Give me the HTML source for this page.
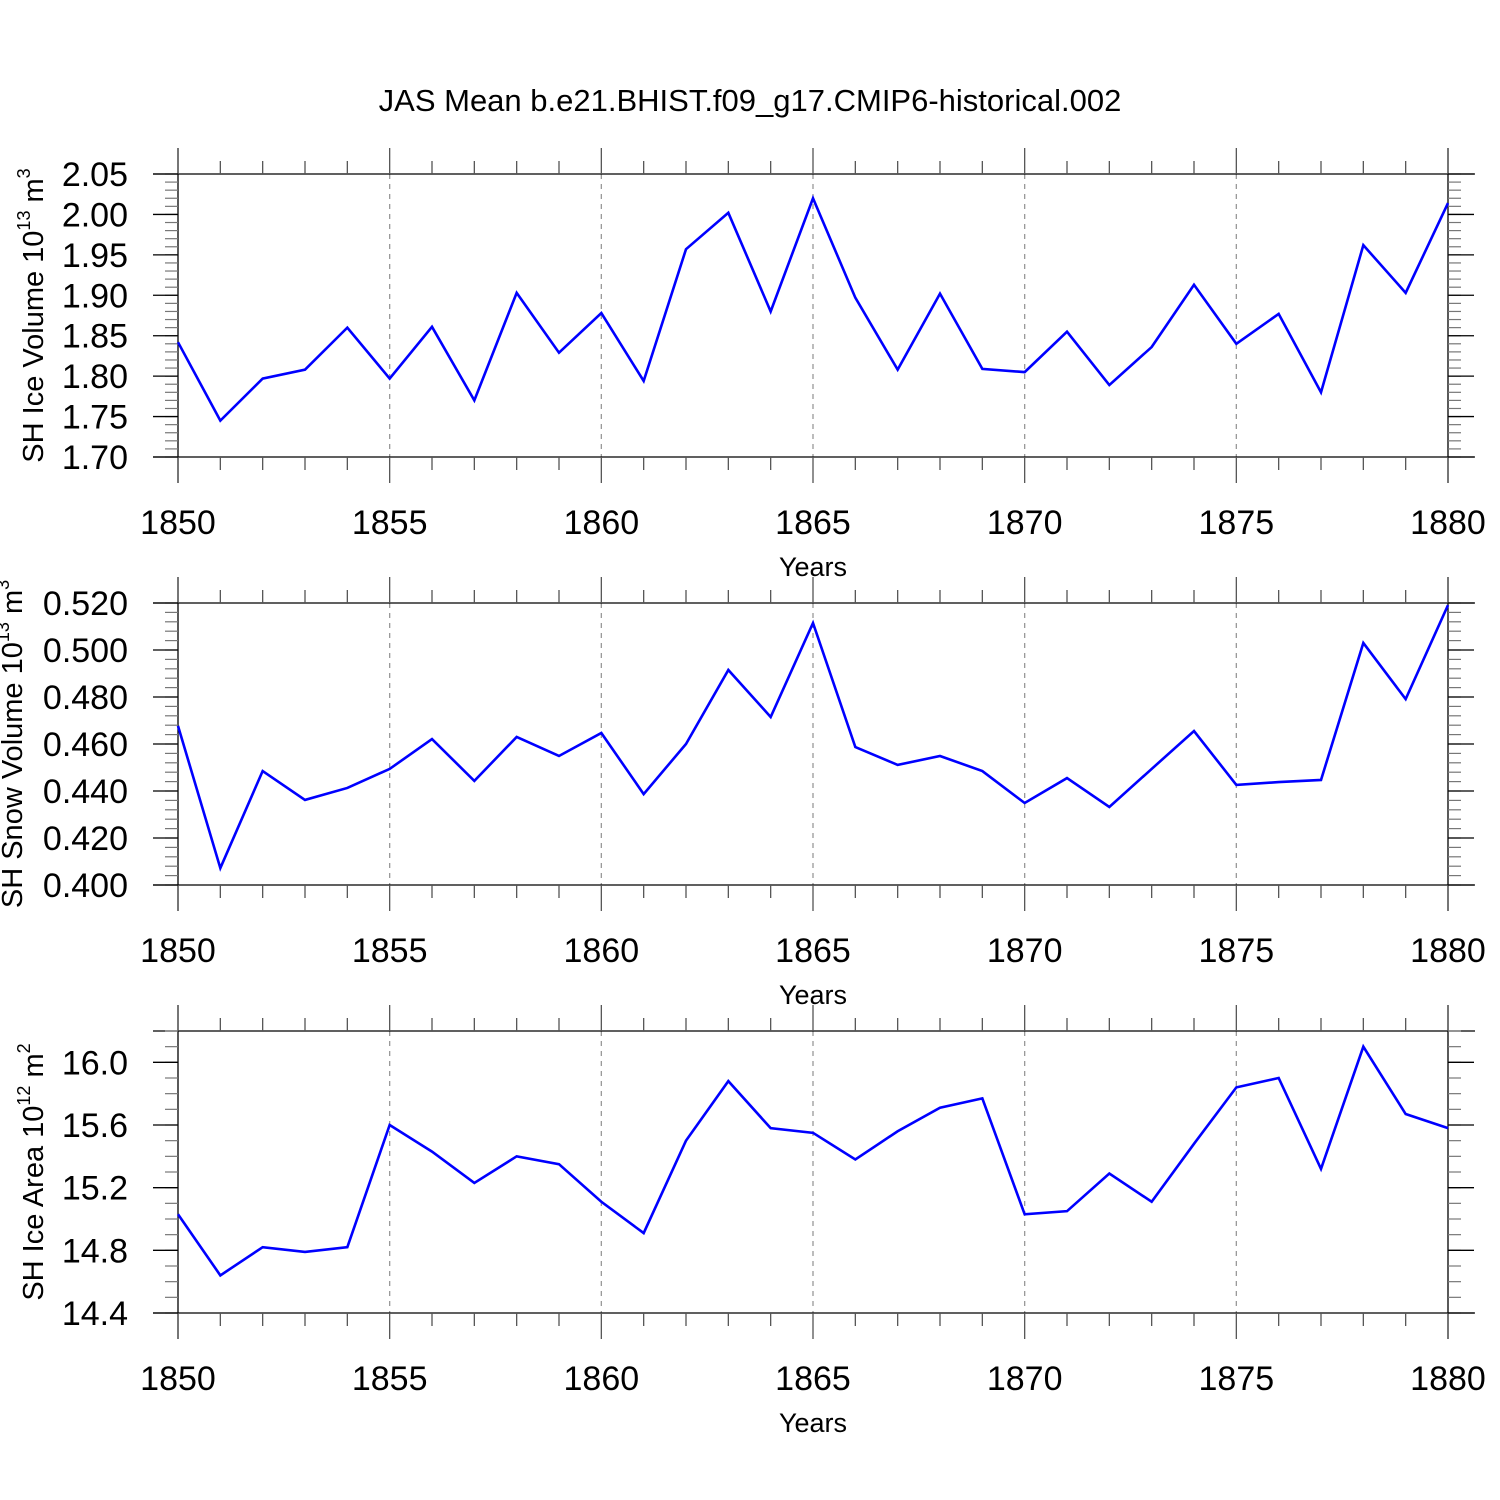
<!DOCTYPE html>
<html><head><meta charset="utf-8"><style>
html,body{margin:0;padding:0;background:#fff}
svg{display:block;font-family:"Liberation Sans",sans-serif}
</style></head><body>
<svg id="chart" width="1500" height="1500" viewBox="0 0 1500 1500">
<text x="750" y="111" text-anchor="middle" font-size="31">JAS Mean b.e21.BHIST.f09_g17.CMIP6-historical.002</text>
</svg>
<script>
const years = [1850,1851,1852,1853,1854,1855,1856,1857,1858,1859,1860,1861,1862,1863,1864,1865,1866,1867,1868,1869,1870,1871,1872,1873,1874,1875,1876,1877,1878,1879,1880];
const iceVolume = [1.842,1.745,1.797,1.808,1.860,1.797,1.861,1.770,1.903,1.829,1.878,1.794,1.957,2.002,1.880,2.020,1.897,1.808,1.902,1.809,1.805,1.855,1.789,1.836,1.913,1.840,1.877,1.780,1.962,1.903,2.014];
const snowVolume = [0.4677,0.4072,0.4485,0.4362,0.4413,0.4494,0.4621,0.4443,0.4630,0.4549,0.4647,0.4387,0.4600,0.4915,0.4715,0.5115,0.4587,0.4511,0.4549,0.4485,0.4349,0.4455,0.4332,0.4494,0.4655,0.4426,0.4438,0.4447,0.5030,0.4791,0.5191];
const iceArea = [15.03,14.64,14.82,14.79,14.82,15.60,15.43,15.23,15.40,15.35,15.11,14.91,15.50,15.88,15.58,15.55,15.38,15.56,15.71,15.77,15.03,15.05,15.29,15.11,15.48,15.84,15.90,15.32,16.10,15.67,15.58];
const xTicks = [1850,1855,1860,1865,1870,1875,1880];
const iceVolTicks = ["1.70","1.75","1.80","1.85","1.90","1.95","2.00","2.05"];
const snowTicks = ["0.400","0.420","0.440","0.460","0.480","0.500","0.520"];
const areaTicks = ["14.4","14.8","15.2","15.6","16.0"];

const svg = document.getElementById('chart');
const NS = 'http://www.w3.org/2000/svg';
function mk(tag, attrs, parent){const e=document.createElementNS(NS,tag);for(const k in attrs)e.setAttribute(k,attrs[k]);(parent||svg).appendChild(e);return e;}
const X0=178,X1=1448;
const xs = y => X0 + (y-1850)/(1880-1850)*(X1-X0);

function panel(name, vals, ticks, ymin, ymax, minorStep, top, bottom, titleParts, titleX){
  const g = mk('g',{});
  
  
  const ys = v => bottom - (v-ymin)/(ymax-ymin)*(bottom-top);
  for(const t of xTicks){ if(t===1850||t===1880) continue;
    const l=mk('line',{x1:xs(t),x2:xs(t),y1:top,y2:bottom,stroke:'#999','stroke-width':1.3,'stroke-dasharray':'5,5'},g);
    
    
  }
  mk('line',{x1:153,x2:1475,y1:top,y2:top,stroke:'#000','stroke-width':1.3},g);
  mk('line',{x1:153,x2:1475,y1:bottom,y2:bottom,stroke:'#000','stroke-width':1.3},g);
  mk('line',{x1:X0,x2:X0,y1:top-26,y2:bottom+26,stroke:'#000','stroke-width':1.3},g);
  mk('line',{x1:X1,x2:X1,y1:top-26,y2:bottom+26,stroke:'#000','stroke-width':1.3},g);
  for(let yr=1850; yr<=1880; yr++){
    const major = yr%5===0, len = major?26:13;
    mk('line',{x1:xs(yr),x2:xs(yr),y1:top-len,y2:top,stroke:'#555','stroke-width':1.3},g);
    mk('line',{x1:xs(yr),x2:xs(yr),y1:bottom,y2:bottom+len,stroke:'#555','stroke-width':1.3},g);
  }
  for(const t of xTicks){
    const tx=mk('text',{x:xs(t),y:bottom+77,'text-anchor':'middle','font-size':34},g);
    tx.textContent=t;
    
    
  }
  const xt=mk('text',{x:813,y:bottom+119,'text-anchor':'middle','font-size':27},g);
  xt.textContent='Years';
  
  
  const n = Math.round((ymax-ymin)/minorStep);
  for(let i=0;i<=n;i++){
    const v=ymin+i*minorStep, y=ys(v);
    mk('line',{x1:X0-13,x2:X0,y1:y,y2:y,stroke:'#777','stroke-width':1.2},g);
    mk('line',{x1:X1,x2:X1+13,y1:y,y2:y,stroke:'#777','stroke-width':1.2},g);
  }
  for(const t of ticks){
    const y=ys(parseFloat(t));
    mk('line',{x1:X0-25,x2:X0,y1:y,y2:y,stroke:'#000','stroke-width':1.3},g);
    mk('line',{x1:X1,x2:X1+26,y1:y,y2:y,stroke:'#000','stroke-width':1.3},g);
    const tx=mk('text',{x:128,y:y+12,'text-anchor':'end','font-size':34},g);
    tx.textContent=t;
    
    
  }
  const cy=(top+bottom)/2;
  const yt=mk('text',{x:0,y:0,'text-anchor':'middle','font-size':29,transform:`translate(${titleX},${cy}) rotate(-90)`},g);
  
  
  yt.appendChild(document.createTextNode(titleParts[0]+' 10'));
  const s1=mk('tspan',{'font-size':18,dy:-13},yt); s1.textContent=titleParts[1];
  const s2=mk('tspan',{dy:13},yt); s2.textContent=' '+titleParts[2];
  const s3=mk('tspan',{'font-size':18,dy:-13},yt); s3.textContent=titleParts[3];
  const pts = vals.map((v,i)=>xs(years[i])+','+ys(v)).join(' ');
  const pl=mk('polyline',{points:pts,fill:'none',stroke:'#0000ff','stroke-width':2.6,'stroke-linejoin':'miter'},g);
  
  
}
panel('ice-volume', iceVolume, iceVolTicks, 1.70, 2.05, 0.01, 174, 457, ['SH Ice Volume','13','m','3'], 43);
panel('snow-volume', snowVolume, snowTicks, 0.400, 0.520, 0.004, 603, 885, ['SH Snow Volume','13','m','3'], 22);
panel('ice-area', iceArea, areaTicks, 14.4, 16.2, 0.1, 1031, 1313, ['SH Ice Area','12','m','2'], 43);
</script>
</body></html>
